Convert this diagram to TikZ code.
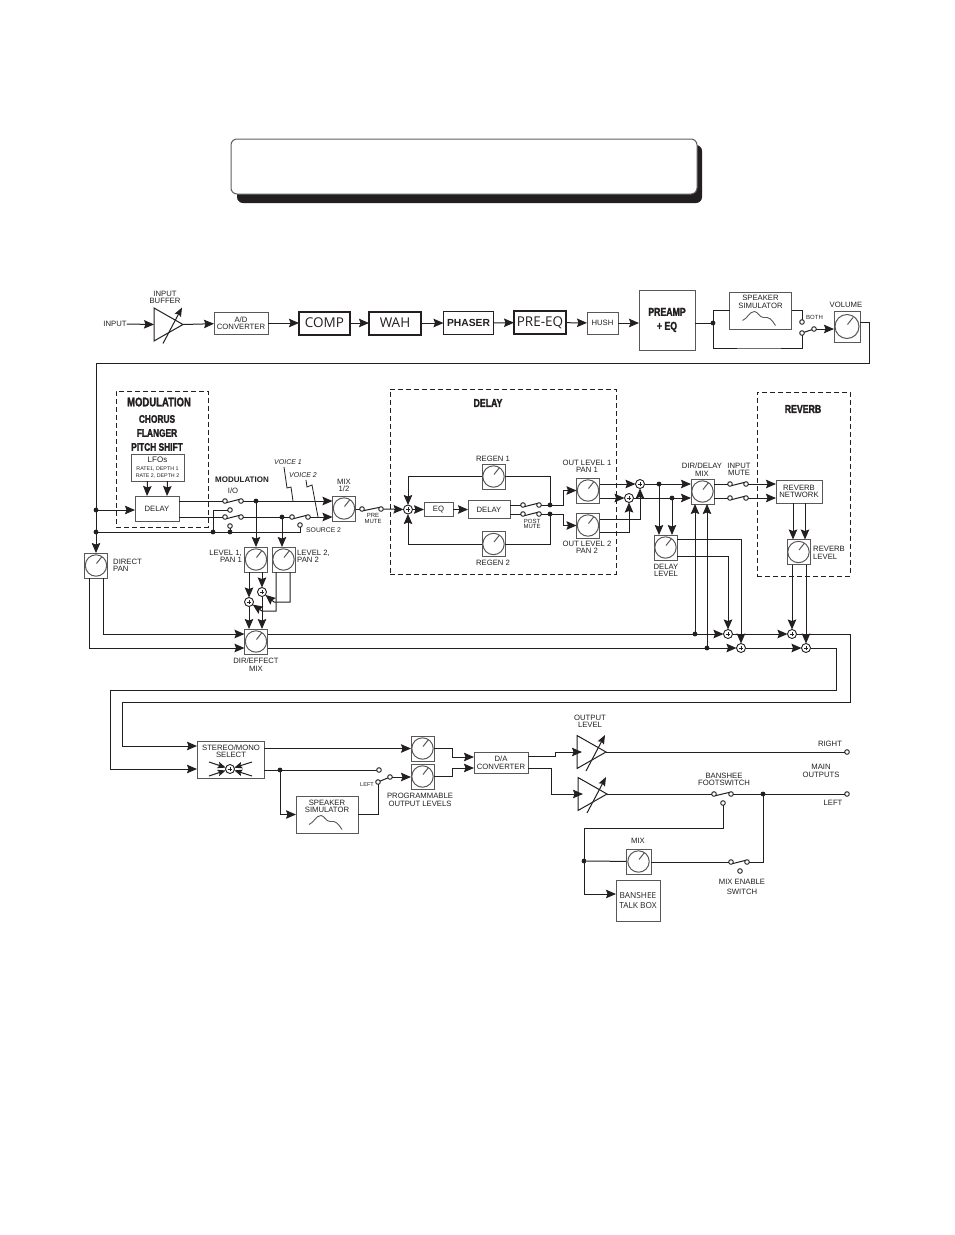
\documentclass[tikz,border=0pt]{standalone}
\usepackage{fontspec}
\setmainfont{Liberation Sans}
\newfontfamily\headfont[FakeStretch=0.76,FakeBold=1.8]{Liberation Sans Bold}
\newfontfamily\plainfont{Open Sans}
\usepackage{xcolor}
\usetikzlibrary{arrows.meta}
\definecolor{inkblack}{RGB}{35,31,32}
\definecolor{inkgray}{RGB}{95,95,95}
\tikzset{
  sz/.style 2 args={minimum width=#1pt,minimum height=#2pt},
  wire/.style={draw=inkblack,line width=1pt},
  flow/.style={wire,-{Stealth[length=10pt,width=8.5pt,inset=1.5pt]}},
  bx/.style={draw=inkblack!75,line width=1pt,inner sep=0pt,outer sep=0pt,align=center,
    text=inkblack,font=\fontsize{7.7}{7.5}\selectfont},
  thickbx/.style={bx,draw=inkblack,line width=2pt},
  knob/.style={bx,sz={23}{25},path picture={
    \draw[line width=1pt] (path picture bounding box.center) circle (#1pt);
    \draw[line width=1pt] ([xshift=0.5pt,yshift=2pt]path picture bounding box.center)--++(5.5pt,7pt);}},
  knob/.default=10.7,
  spkbx/.style={bx,sz={62}{37},path picture={
    \draw[line width=0.9pt,shift={(path picture bounding box.center)}]
      (-18pt,-10pt) .. controls (-13pt,-8pt) and (-11pt,-1pt) .. (-6pt,-1pt)
      .. controls (-3pt,-1pt) and (-1pt,-7pt) .. (3pt,-7pt)
      .. controls (9pt,-6pt) and (11pt,-9pt) .. (15pt,-15pt);}},
  dashbx/.style={draw=inkblack,line width=0.9pt,dash pattern=on 5pt off 3pt,inner sep=0pt,outer sep=0pt},
  term/.style={circle,draw=inkblack,line width=0.9pt,fill=white,inner sep=0pt,minimum size=4.6pt,outer sep=0pt},
  dot/.style={circle,fill=inkblack,inner sep=0pt,minimum size=4.8pt,outer sep=0pt},
  sumnode/.style={circle,draw=inkblack,line width=0.9pt,fill=white,inner sep=0pt,minimum size=9pt,outer sep=0pt,
    path picture={
      \draw[line width=0.8pt] ([xshift=-2.4pt]path picture bounding box.center)--++(4.8pt,0pt);
      \draw[line width=0.8pt] ([yshift=-2.4pt]path picture bounding box.center)--++(0pt,4.8pt);}},
  lab/.style={inner sep=0pt,align=center,text=inkblack,font=\fontsize{7.7}{7.5}\selectfont},
  smalllab/.style={lab,font=\fontsize{6}{5.6}\selectfont},
  boldlab/.style={lab,font=\fontsize{8}{8}\selectfont\bfseries},
  headlab/.style={lab,font=\fontsize{11.5}{14}\headfont},
  bigtext/.style={font=\fontsize{13.5}{14}\plainfont},
  myrlab/.style={font=\fontsize{8.3}{10}\plainfont}
}
\begin{document}
\begin{tikzpicture}[x=1pt,y=-1pt]
  \useasboundingbox (0,0) rectangle (954,1235);
  \node[bx,sz={465}{58},draw=none,fill=inkblack,rounded corners=6pt] (titleshadow) at (469.5,174) {};
  \node[bx,sz={466}{55},draw=inkgray,fill=white,rounded corners=6pt] (titlebox) at (464,166.5) {};

  \foreach \amp/\ax/\ay in {buf/154/324.5,ampr/577/752,ampl/578/794}{
    \coordinate (\amp) at (\ax,\ay);
    \coordinate (\amp out) at (\ax+29,\ay);
    \draw[wire] (\ax,\ay-16.5)--(\amp out)--(\ax,\ay+16.5)--cycle;
    \draw[line width=1pt,draw=inkblack,-{Stealth[length=9pt,width=7pt,inset=1.5pt]}] (\ax+9,\ay+19)--(\ax+28,\ay-17);
  }
  \node[lab] (inputlab) at (115,324) {INPUT};
  \node[lab] (buflab) at (165,297.5) {INPUT\\BUFFER};
  \node[bx,sz={54}{22}] (adconv) at (241,323) {A/D\\CONVERTER};
  \node[thickbx,sz={51}{23},bigtext] (comp) at (324.5,323) {COMP};
  \node[thickbx,sz={52}{23},bigtext] (wah) at (395,323) {WAH};
  \node[thickbx,line width=1.5pt,sz={50}{23},font=\fontsize{10.3}{11}\selectfont\bfseries] (phaser) at (468.5,323) {PHASER};
  \node[thickbx,sz={52}{23},bigtext] (preeq) at (540,322.5) {PRE-EQ};
  \node[bx,sz={31}{22}] (hush) at (602.5,323) {HUSH};
  \node[bx,sz={56}{60},font=\fontsize{11.5}{14}\headfont] (preamp) at (667,320) {PREAMP\\+ EQ};
  \node[dot] (spkjoin) at (713,323) {};
  \node[spkbx] (spk1) at (760.5,310.5) {};
  \node[lab] (spk1lab) at (760.5,302) {SPEAKER\\SIMULATOR};
  \node[term] (both1) at (802,322) {};
  \node[term] (both2) at (802,333) {};
  \node[term] (both3) at (814,329) {};
  \node[smalllab,anchor=west] (bothlab) at (806,317.5) {BOTH};
  \node[knob=12,sz={26}{31}] (volume) at (847,326.5) {};
  \node[lab] (vollab) at (846,305) {VOLUME};
  \coordinate (botturn) at (760,348);
  \coordinate (volturn) at (869,363);

  \draw[flow] (inputlab.east)--(buf);
  \draw[flow] (bufout)--(adconv);
  \draw[flow] (adconv)--(comp);
  \draw[flow] (comp)--(wah);
  \draw[flow] (wah)--(phaser);
  \draw[flow] (phaser)--(preeq);
  \draw[flow] (preeq)--(hush);
  \draw[flow] (hush)--(preamp.west|-hush);
  \draw[wire] (preamp.east|-spkjoin)--(spkjoin);
  \draw[wire] (spkjoin)|-(spk1.west);
  \draw[wire] (spk1.east)-|(both1);
  \draw[wire] (spkjoin)|-(botturn)-|(both2);
  \draw[wire] (both2)--(both3);
  \draw[flow] (both3)--(volume.west|-both3);

  \node[dashbx,sz={92}{136}] (modframe) at (162,459) {};
  \node[headlab,font=\fontsize{12.5}{14}\headfont] (modlab) at (159,402) {MODULATION};
  \node[headlab,font=\fontsize{11}{14}\headfont] (chorlab) at (157,433) {CHORUS\\FLANGER\\PITCH SHIFT};
  \node[bx,sz={53}{27}] (lfo) at (157.5,467.5) {{\fontsize{8}{5.5}\selectfont LFOs}\\[0.5pt]{\fontsize{5.3}{5.5}\selectfont RATE1, DEPTH 1}\\{\fontsize{5.3}{5.5}\selectfont RATE 2, DEPTH 2}};
  \node[bx,sz={44}{25}] (moddelay) at (157,508.5) {DELAY};
  \node[dot] (inputdot) at (96,510) {};
  \node[dot] (srcdot) at (96,532) {};
  \node[knob,sz={23}{25}] (directpan) at (96,565.5) {};
  \node[lab,anchor=west,align=left] (pandlab) at (113,565.5) {DIRECT\\PAN};
  \node[boldlab] (iolab) at (242,480) {MODULATION};
  \node[lab] (iotext) at (233,491) {I/O};
  \foreach \s/\sx/\sy in {s1a/225/501,s1b/241/501,s2a/225/517,s2b/241/517,s2u/230/510,
    s3a/292/517,s3b/308/517,srcterm/300/525,s4u/230/526}{
    \node[term] (\s) at (\sx,\sy) {};
  }
  \node[dot] (lev1dot) at (256,501) {};
  \node[dot] (lev2dot) at (282,517) {};
  \node[dot] (srca) at (213,532) {};
  \node[dot] (srcb) at (230,532) {};
  \node[lab,anchor=west,font=\fontsize{6.8}{7}\selectfont] (srclab) at (306,530.5) {SOURCE 2};
  \node[knob] (mixk) at (344,508.5) {};
  \node[lab] (mixlab) at (344,485.5) {MIX\\1/2};
  \node[lab,font=\fontsize{7}{7}\itshape] (v1lab) at (288,462) {VOICE 1};
  \node[lab,font=\fontsize{7}{7}\itshape] (v2lab) at (303,475) {VOICE 2};
  \coordinate (v1a) at (284,467);
  \coordinate (v1b) at (287,488);
  \coordinate (v1c) at (291,487);
  \coordinate (v1d) at (293,501);
  \coordinate (v2a) at (306,480);
  \coordinate (v2b) at (307,487);
  \coordinate (v2c) at (312,485);
  \coordinate (v2d) at (318,517);
  \node[term] (pm1) at (362,509) {};
  \node[term] (pm2) at (381,509) {};
  \node[smalllab] (pmlab) at (373,518.5) {PRE\\MUTE};

  \draw[wire] (volume.east|-both1)-|(volturn)-|(inputdot);
  \draw[wire] (inputdot)--(srcdot);
  \draw[flow] (srcdot)--(directpan);
  \draw[flow] (inputdot)--(moddelay.west|-inputdot);
  \draw[flow] ([xshift=-10pt]lfo.south)--([xshift=-10pt]moddelay.north);
  \draw[flow] ([xshift=10pt]lfo.south)--([xshift=10pt]moddelay.north);
  \draw[wire] (moddelay.east|-s1a)--(s1a);
  \draw[wire] (moddelay.east|-s2a)--(s2a);
  \draw[wire] (s1a.south east)--(s1b.north west);
  \draw[wire] (s2a.south east)--(s2b.north west);
  \draw[wire] (s3a.south east)--(s3b.north west);
  \draw[flow] (s1b)--(mixk.west|-s1b);
  \draw[wire] (s2b)--(s3a);
  \draw[flow] (s3b)--(mixk.west|-s3b);
  \draw[wire] (srcdot)-|(srcterm);
  \draw[wire] (srca)|-(s2u);
  \draw[wire] (srcb)--(s4u);
  \draw[wire,line width=0.8pt] (v1a)--(v1b)--(v1c)--(v1d);
  \draw[wire,line width=0.8pt] (v2a)--(v2b)--(v2c)--(v2d);
  \draw[wire] (mixk.east|-pm1)--(pm1);
  \draw[wire] (pm1.south east)--(pm2.north west);

  \node[knob] (level1) at (256,559.5) {};
  \node[knob] (level2) at (283.5,559.5) {};
  \node[lab,anchor=east,align=right] (lv1lab) at (242,556.5) {LEVEL 1,\\PAN 1};
  \node[lab,anchor=west,align=left] (lv2lab) at (297,556.5) {LEVEL 2,\\PAN 2};
  \node[sumnode] (suma) at (249,602) {};
  \node[sumnode] (sumb) at (262,592) {};
  \coordinate (lev2b) at (262,611);
  \coordinate (lev2d) at (274,602);
  \node[knob] (dirfx) at (256,641.5) {};
  \node[lab] (fxlab) at (256,664.5) {DIR/EFFECT\\MIX};
  \draw[flow] (lev1dot)--(level1);
  \draw[flow] (lev2dot)--(lev2dot|-level2.north);
  \draw[flow] (level1.south-|suma)--(suma);
  \draw[flow] (level1.south-|sumb)--(sumb);
  \draw[flow] ([xshift=-7.5pt]level2.south)|-(lev2b)--(suma);
  \draw[flow] ([xshift=6.5pt]level2.south)|-(lev2d)--(sumb);
  \draw[flow] (suma)--(suma|-dirfx.north);
  \draw[flow] (sumb)--(sumb|-dirfx.north);
  \draw[flow] ([xshift=7pt]directpan.south)|-([yshift=7.5pt]dirfx.west);
  \draw[flow] ([xshift=-7pt]directpan.south)|-([yshift=-6.5pt]dirfx.west);

  \node[dashbx,sz={226}{185}] (delframe) at (503,481.5) {};
  \node[headlab] (dellab) at (488,403) {DELAY};
  \node[sumnode] (delsum) at (408,509.5) {};
  \node[bx,sz={29}{14}] (eq) at (438.5,509.5) {EQ};
  \node[bx,sz={42}{18}] (delayb) at (489,509.5) {DELAY};
  \node[knob] (regen1) at (493.5,476.5) {};
  \node[knob] (regen2) at (493.5,544) {};
  \node[lab] (rg1lab) at (493,459) {REGEN 1};
  \node[lab] (rg2lab) at (493,562.5) {REGEN 2};
  \node[term] (p1a) at (523,505) {};
  \node[term] (p1b) at (539,505) {};
  \node[term] (p2a) at (523,514) {};
  \node[term] (p2b) at (539,514) {};
  \node[dot] (d1) at (550,505) {};
  \node[dot] (d2) at (550,514) {};
  \node[smalllab] (pmtlab) at (532,524) {POST\\MUTE};
  \coordinate (oturn1) at (563,490.5);
  \coordinate (oturn2) at (563,525.5);
  \node[knob] (outlev1) at (588,490.5) {};
  \node[knob] (outlev2) at (588,525.5) {};
  \node[lab] (ol1lab) at (587,466.5) {OUT LEVEL 1\\PAN 1};
  \node[lab] (ol2lab) at (587,547.5) {OUT LEVEL 2\\PAN 2};
  \node[sumnode] (sumc) at (640,484) {};
  \node[sumnode] (sumd) at (629,498) {};
  \node[dot] (dl1) at (659,484) {};
  \node[dot] (dl2) at (672,498) {};
  \node[knob] (dellev) at (665.5,547.5) {};
  \node[lab] (dllab) at (666,570.5) {DELAY\\LEVEL};

  \draw[flow] (pm2)--(delsum);
  \draw[flow] (delsum)--(eq);
  \draw[flow] (eq)--(delayb);
  \draw[wire] (delayb.east|-p1a)--(p1a);
  \draw[wire] (delayb.east|-p2a)--(p2a);
  \draw[wire] (p1a.south east)--(p1b.north west);
  \draw[wire] (p2a.south east)--(p2b.north west);
  \draw[wire] (p1b)--(d1);
  \draw[wire] (p2b)--(d2);
  \draw[wire] (d1)|-(regen1.east);
  \draw[wire] (d2)|-(regen2.east);
  \draw[flow] (regen1.west)-|(delsum);
  \draw[flow] (regen2.west)-|(delsum);
  \draw[flow] (d1)-|(oturn1)--(outlev1.west);
  \draw[flow] (d2)-|(oturn2)--(outlev2.west);
  \draw[flow] (outlev1.east|-sumc)--(sumc);
  \draw[flow] (outlev1.east|-sumd)--(sumd);
  \draw[flow] ([yshift=6.5pt]outlev2.east)-|(sumc);
  \draw[flow] ([yshift=-6.5pt]outlev2.east)-|(sumd);

  \node[knob] (dirdelay) at (702.5,491.5) {};
  \node[lab] (ddlab) at (702,469.5) {DIR/DELAY\\MIX};
  \node[lab] (imlab) at (739,469.5) {INPUT\\MUTE};
  \node[term] (m1a) at (730,484) {};
  \node[term] (m1b) at (746,484) {};
  \node[term] (m2a) at (730,498) {};
  \node[term] (m2b) at (746,498) {};
  \node[dashbx,sz={93}{184}] (revframe) at (803.5,484) {};
  \node[headlab] (revlab) at (803,409) {REVERB};
  \node[bx,sz={46}{23}] (revnet) at (799,491.5) {REVERB\\NETWORK};
  \node[knob] (revlev) at (798.5,552) {};
  \node[lab,anchor=west,align=left] (rvlab) at (813,553) {REVERB\\LEVEL};
  \node[dot] (busdot1) at (695,634) {};
  \node[dot] (busdot2) at (707,648) {};
  \node[sumnode] (sume) at (728,634) {};
  \node[sumnode] (sumf) at (741,648) {};
  \node[sumnode] (sumg) at (792,634) {};
  \node[sumnode] (sumh) at (806,648) {};
  \coordinate (turng) at (850,702);
  \coordinate (turngb) at (122,746);
  \coordinate (turnh) at (836,690);
  \coordinate (turnhb) at (110,769);

  \draw[flow] (sumc)--(dirdelay.west|-sumc);
  \draw[flow] (sumd)--(dirdelay.west|-sumd);
  \draw[flow] (dl1)--(dl1|-dellev.north);
  \draw[flow] (dl2)--(dl2|-dellev.north);
  \draw[wire] (dirdelay.east|-m1a)--(m1a);
  \draw[wire] (dirdelay.east|-m2a)--(m2a);
  \draw[wire] (m1a.south east)--(m1b.north west);
  \draw[wire] (m2a.south east)--(m2b.north west);
  \draw[flow] (m1b)--(revnet.west|-m1b);
  \draw[flow] (m2b)--(revnet.west|-m2b);
  \draw[flow] ([xshift=-6pt]revnet.south)--([xshift=-5.5pt]revlev.north);
  \draw[flow] ([xshift=6pt]revnet.south)--([xshift=6.5pt]revlev.north);
  \draw[flow] ([yshift=8.5pt]dellev.east)-|(sumf);
  \draw[flow] ([yshift=-8.5pt]dellev.east)-|(sume);
  \draw[flow] ([yshift=7.5pt]dirfx.east)--(sume);
  \draw[flow] ([yshift=-6.5pt]dirfx.east)--(sumf);
  \draw[flow] (busdot1)--(busdot1|-dirdelay.south);
  \draw[flow] (busdot2)--(busdot2|-dirdelay.south);
  \draw[flow] (sume)--(sumg);
  \draw[flow] (sumf)--(sumh);
  \draw[flow] (sumg|-revlev.south)--(sumg);
  \draw[flow] (sumh|-revlev.south)--(sumh);

  \node[bx,sz={67}{37}] (stereo) at (230.5,759.5) {};
  \node[lab] (stlab) at (231,751) {STEREO/MONO\\SELECT};
  \node[sumnode] (sums) at (230,769) {};
  \node[dot] (spkdot) at (280,770) {};
  \node[spkbx] (spk2) at (327,814.5) {};
  \node[lab] (spk2lab) at (327,806.5) {SPEAKER\\SIMULATOR};
  \node[term] (leftb) at (379,770) {};
  \node[term] (lefta) at (378,782) {};
  \node[term] (leftc) at (390,777) {};
  \node[smalllab,font=\fontsize{5.6}{6}\selectfont] (leftlab) at (367,784.5) {LEFT};
  \node[knob] (knoba) at (422.5,748.5) {};
  \node[knob] (knobb) at (422.5,776.5) {};
  \node[lab] (proglab) at (420,800) {PROGRAMMABLE\\OUTPUT LEVELS};
  \node[bx,sz={54}{21}] (daconv) at (501,762.5) {D/A\\CONVERTER};
  \coordinate (daturn) at (452,762);
  \coordinate (ampturn1) at (555,752);
  \coordinate (ampturn2) at (551,794);

  \draw[flow] (sumh)-|(turnh)-|(turnhb)--(stereo.west|-turnhb);
  \draw[flow] (sumg)-|(turng)-|(turngb)--(stereo.west|-turngb);
  \foreach \sx/\sy in {-21/7,-21/-7,22/7,22/-7}{
    \draw[wire,-{Stealth[length=8pt,width=6.5pt,inset=1.5pt]}] ([shift={(\sx pt,\sy pt)}]sums.center)--(sums);
  }
  \draw[flow] (stereo.east|-knoba)--(knoba.west);
  \draw[wire] (stereo.east|-leftb)--(leftb);
  \draw[flow] (spkdot)|-(spk2.west);
  \draw[wire] (spk2.east)-|(lefta);
  \draw[wire] (lefta)--(leftc);
  \draw[flow] (leftc)--(knobb.west|-leftc);
  \draw[flow] (knoba.east)--(knoba.east-|daturn)|-([yshift=5.5pt]daconv.west);
  \draw[flow] (knobb.east)--(knobb.east-|daturn)|-([yshift=-5.5pt]daconv.west);
  \draw[flow] ([yshift=6.5pt]daconv.east)-|(ampturn1)--([xshift=5pt]ampr);
  \draw[flow] ([yshift=-5.5pt]daconv.east)-|(ampturn2)--([xshift=5pt]ampl);

  \node[lab] (outlab) at (590,721.5) {OUTPUT\\LEVEL};
  \node[term] (rightterm) at (847,752) {};
  \node[term] (leftterm) at (847,794) {};
  \node[lab] (rightlab) at (830,744) {RIGHT};
  \node[lab] (leftlab2) at (833,803) {LEFT};
  \node[lab] (mainlab) at (821,771) {MAIN\\OUTPUTS};
  \node[lab] (banlab) at (724,779.5) {BANSHEE\\FOOTSWITCH};
  \node[term] (ban1) at (714,794) {};
  \node[term] (ban2) at (731,794) {};
  \node[term] (ban3) at (723,803) {};
  \node[dot] (mainout) at (763,794) {};
  \node[dot] (bandot) at (584,861) {};
  \coordinate (banturn) at (584,828);
  \node[knob,sz={25}{25}] (mixb) at (638.5,861.5) {};
  \node[lab] (mixblab) at (638,841) {MIX};
  \node[term] (en1) at (731,862) {};
  \node[term] (en2) at (747,862) {};
  \node[term] (en3) at (740,871) {};
  \node[lab,font=\fontsize{7.7}{10}\selectfont] (enlab) at (742,887) {MIX ENABLE\\SWITCH};
  \node[bx,sz={44}{41},myrlab] (talkbox) at (638,900.5) {BANSHEE\\TALK BOX};

  \draw[wire] (amprout)--(rightterm);
  \draw[wire] (amplout)--(ban1);
  \draw[wire] (ban1.south east)--(ban2.north west);
  \draw[wire] (ban2)--(leftterm);
  \draw[flow] (ban3)|-(banturn)|-([yshift=6.5pt]talkbox.west);
  \draw[wire] (bandot)--(mixb);
  \draw[wire] (mixb.east|-en1)--(en1);
  \draw[wire] (en1.south east)--(en2.north west);
  \draw[wire] (en2)-|(mainout);
\end{tikzpicture}
\end{document}
